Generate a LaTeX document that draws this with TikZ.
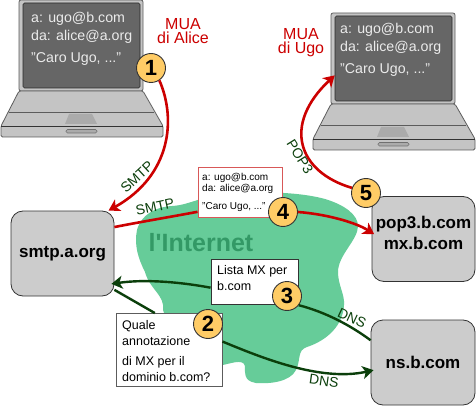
\documentclass[tikz,border=0pt]{standalone}
\usepackage{fontspec}
\setmainfont{Liberation Sans}
\newfontfamily\plainsans{Liberation Sans}
\usetikzlibrary{arrows.meta}
\definecolor{redl}{HTML}{CC0000}
\definecolor{greenl}{HTML}{0B3F0B}
\definecolor{blobc}{HTML}{66CC99}
\definecolor{nettext}{HTML}{339966}
\definecolor{boxg}{HTML}{CCCCCC}
\definecolor{edgec}{HTML}{333333}
\definecolor{lidc}{HTML}{C4C4C4}
\definecolor{screenc}{HTML}{666666}
\definecolor{padc}{HTML}{ABABAB}
\definecolor{circf}{HTML}{FFCC66}
\definecolor{noter}{HTML}{D85858}
\tikzset{
  server/.style={draw=edgec,line width=0.8pt,fill=boxg,rounded corners=12pt,inner sep=0pt,
    minimum width=#1,font=\fontsize{17}{20.5}\selectfont\bfseries,align=center},
  numc/.style={circle,draw=edgec,line width=0.9pt,fill=circf,minimum size=29pt,inner sep=0pt,
    font=\fontsize{22}{24}\selectfont\bfseries},
  notebox/.style={draw=#1,line width=0.9pt,fill=white,inner sep=0pt},
  notetxt/.style={anchor=base west,inner sep=0pt,font=\fontsize{12.5}{14}\selectfont},
  scrtxt/.style={anchor=base west,inner sep=0pt,text=white!92!black,font=\fontsize{14.2}{16}\selectfont},
  scrbox/.style={draw=edgec!80!black,line width=0.6pt,fill=screenc,rounded corners=1.5pt,inner sep=0pt,
    minimum width=117pt,minimum height=85pt},
  lappart/.style={draw=edgec!80,line width=0.8pt,fill=lidc,line join=round},
  muatxt/.style={text=redl,align=center,inner sep=0pt,font=\fontsize{16}{14}\selectfont},
  prot/.style={text=greenl,inner sep=0pt,font=\fontsize{14}{16}\selectfont},
  redline/.style={draw=redl,line width=2.6pt},
  greenline/.style={draw=greenl,line width=2.4pt},
  tipr/.style={-{Stealth[length=11pt,width=13pt,inset=3pt]},shorten >=#1},
  tipr/.default=0pt
}
\newcommand{\laptop}[3]{% dx dy name
  \begin{scope}[shift={(#1,#2)}]
    \draw[lappart,rounded corners=2pt] (19,91) -- (19,0) -- (143,0) -- (143,91) -- cycle;
    \draw[lappart,rounded corners=1.5pt] (1,126) -- (19,91) -- (143,91) -- (163,126) -- (163,137) -- (1,137) -- cycle;
    \draw[edgec,line width=0.8pt] (0.5,126) -- (163,126);
    \draw[edgec!80,line width=0.8pt] (9,112) -- (154,112);
    \fill[padc] (69,114) -- (92,114) -- (97,124) -- (65,124) -- cycle;
    \draw[edgec!70,line width=0.6pt,fill=padc,rounded corners=1.5pt] (66,129.5) rectangle (97,133);
    \node[scrbox] (#3) at (81.5,45.5) {};
  \end{scope}
}
\begin{document}
\begin{tikzpicture}[x=1pt,y=-1pt]
\useasboundingbox (0,0) rectangle (476,406);
\fill[white] (0,0) rectangle (476,406);
% Internet cloud
\fill[blobc] (137,230) .. controls (141,215) and (155,207) .. (172,206)
  .. controls (190,205) and (200,196) .. (230,194)
  .. controls (260,191) and (300,192) .. (325,199)
  .. controls (345,205) and (358,215) .. (358,226)
  .. controls (358,240) and (338,255) .. (338,272)
  .. controls (338,285) and (345,295) .. (344,305)
  .. controls (343,325) and (328,340) .. (307,347)
  .. controls (297,350) and (301,360) .. (296,370)
  .. controls (290,382) and (270,384) .. (256,383)
  .. controls (243,381) and (245,372) .. (245,366)
  .. controls (243,358) and (230,364) .. (218,366)
  -- (170,330) -- (163,310)
  .. controls (165,295) and (150,290) .. (145,272)
  .. controls (138,258) and (134,245) .. (137,230) -- cycle;
\node[text=nettext,inner sep=0pt,font=\plainsans\fontsize{25}{27}\selectfont\bfseries] (net) at (201,243) {l'Internet};
% Laptops
\laptop{0}{0}{scra}
\laptop{312}{13}{scrb}
\node[scrtxt] (a1) at (31,23) {a: ugo@b.com};
\node[scrtxt] (a2) at (31,41) {da: alice@a.org};
\node[scrtxt] (a3) at (31,63) {"Caro Ugo, ..."};
\node[scrtxt] (b1) at (340,34) {a: ugo@b.com};
\node[scrtxt] (b2) at (340,52) {da: alice@a.org};
\node[scrtxt] (b3) at (340,74) {"Caro Ugo, ..."};
\node[muatxt] (muaa) at (183,31) {MUA\\di Alice};
\node[muatxt] (muab) at (301,43) {MUA\\di Ugo};
% Servers
\node[server=103pt,minimum height=85pt] (smtp) at (62.5,253.5) {smtp.a.org};
\node[server=103pt,minimum height=85pt] (pop) at (423.5,239) {};
\node[inner sep=0pt,align=center,font=\fontsize{17}{20.5}\selectfont\bfseries] (poptxt) at (423.5,233) {pop3.b.com\\mx.b.com};
\node[server=104pt,minimum height=85pt] (ns) at (423,362.5) {ns.b.com};
% Notes
\node[notebox=noter,minimum width=84pt,minimum height=50pt] (noter) at (240,192) {};
\node[notetxt,font=\fontsize{10}{12}\selectfont] (r1) at (202,180) {a: ugo@b.com};
\node[notetxt,font=\fontsize{10}{12}\selectfont] (r2) at (202,192) {da: alice@a.org};
\node[notetxt,font=\fontsize{10}{12}\selectfont] (r3) at (202,209) {"Caro Ugo, ..."};
\node[notebox=edgec,minimum width=87pt,minimum height=45pt] (note3) at (254.5,281.5) {};
\node[notetxt] (n31) at (217,274) {Lista MX per};
\node[notetxt] (n32) at (217,290) {b.com};
\node[notebox=edgec!80,minimum width=106pt,minimum height=73pt] (note2) at (169,350) {};
\node[notetxt] (n21) at (122,329) {Quale};
\node[notetxt] (n22) at (122,345) {annotazione};
\node[notetxt] (n23) at (122,365) {di MX per il};
\node[notetxt] (n24) at (122,381) {dominio b.com?};
% Numbers
\node[numc] (c1) at (151,68) {1};
\node[numc] (c2) at (208,324) {2};
\node[numc] (c3) at (287,296) {3};
\node[numc] (c4) at (283,212) {4};
\node[numc] (c5) at (366,193) {5};
% Connectors
\draw[redline,tipr] (c1.-56) .. controls (176,118) and (172,175) .. (smtp.43);
\draw[redline] (smtp.27) .. controls (140,222) and (170,217) .. (noter.205);
\draw[redline,tipr=-3pt] (c4.0) .. controls (325,214) and (355,222) .. (pop.173);
\draw[redline,tipr] (c5.160) .. controls (298,172) and (282,125) .. (scrb.196);
\draw[greenline,tipr=-3pt] (note3.188) .. controls (180,282) and (145,279) .. (smtp.-30);
\draw[greenline] (smtp.-35) -- (note2.111);
\draw[greenline] (c3.-38) .. controls (325,312) and (350,325) .. (ns.157);
\draw[greenline,tipr=-3pt] (note2.9) .. controls (260,357) and (320,382) .. (ns.189);
% Protocol labels
\node[prot,rotate=43] (l1) at (137,177) {SMTP};
\node[prot,rotate=12] (l2) at (155,207) {SMTP};
\node[prot,rotate=-58] (l3) at (300,157) {POP3};
\node[prot,rotate=-25] (l4) at (352,318) {DNS};
\node[prot,rotate=-8] (l5) at (324,381) {DNS};
\end{tikzpicture}
\end{document}
